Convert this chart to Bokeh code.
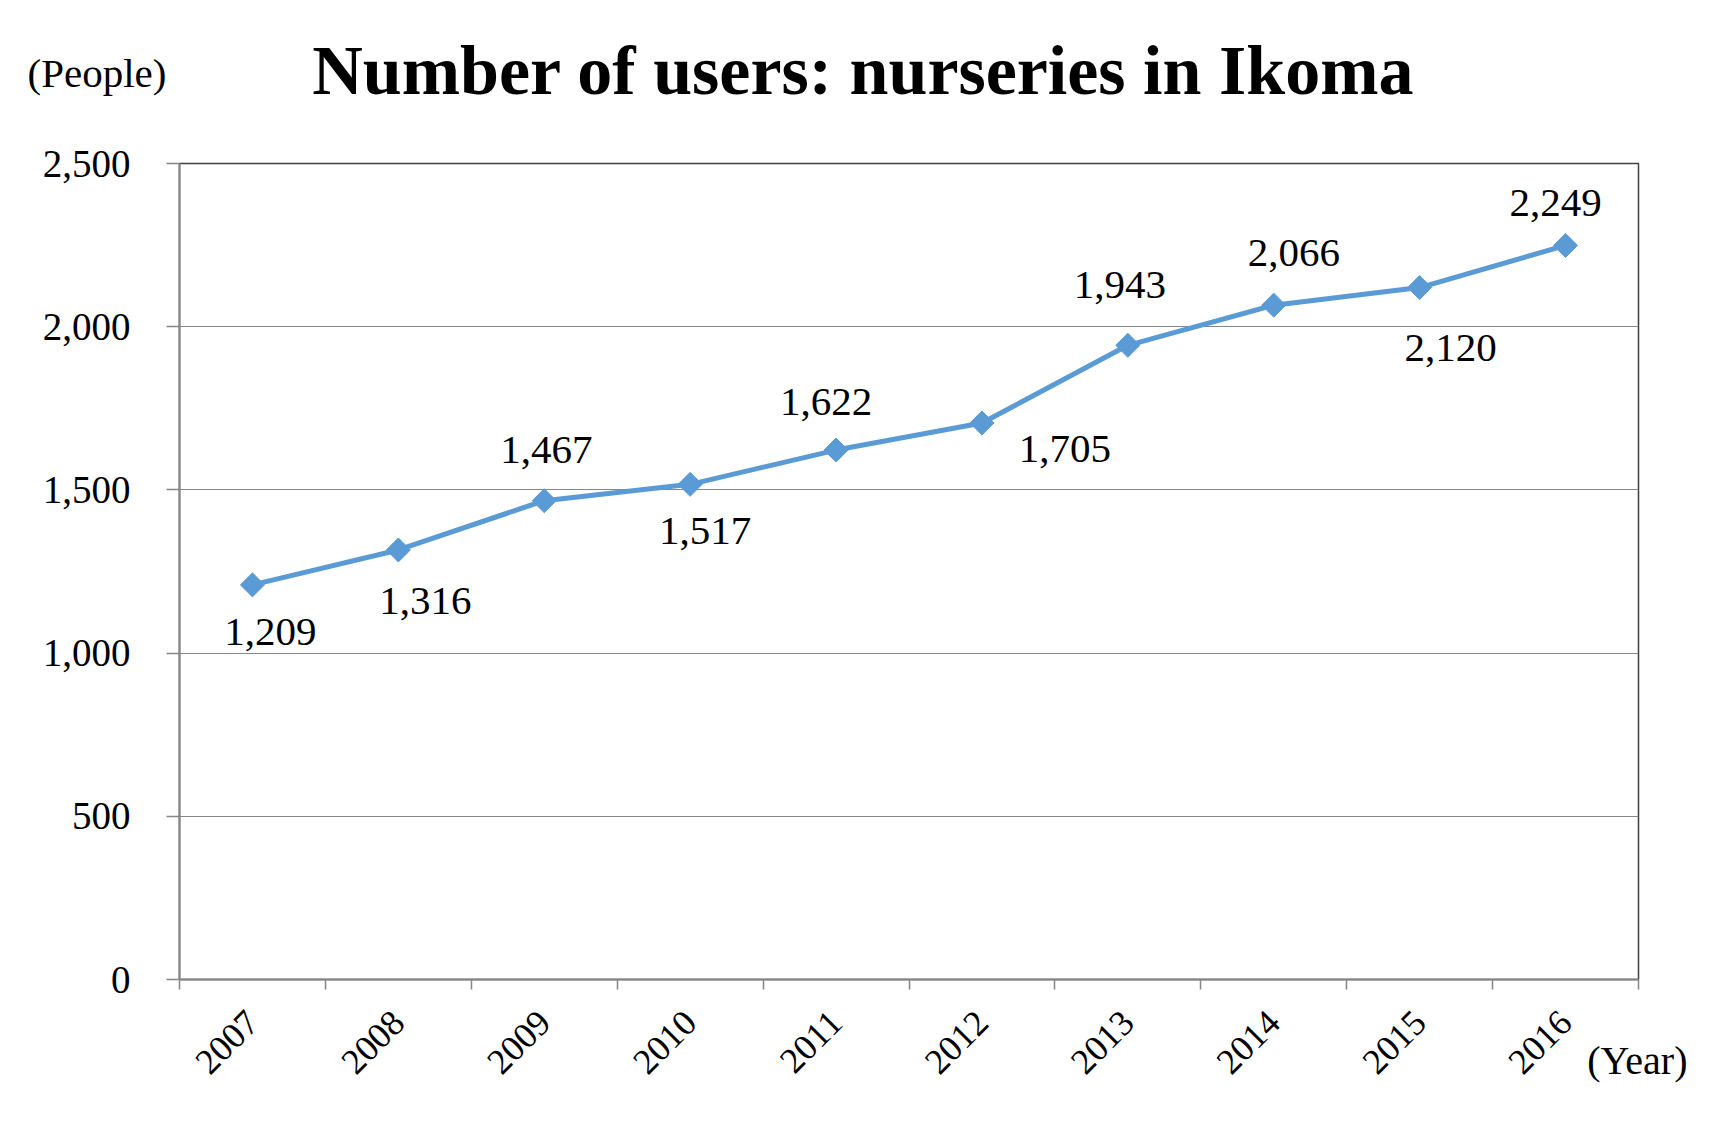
import numpy as np
from bokeh.plotting import figure
from bokeh.layouts import column
from bokeh.models import Range1d, FixedTicker, NumeralTickFormatter, Title, ColumnDataSource
from bokeh.core.properties import value
from bokeh.embed import file_html
from bokeh.resources import INLINE

# ---- data ----
years = ["2007", "2008", "2009", "2010", "2011", "2012", "2013", "2014", "2015", "2016"]
users = [1209, 1316, 1467, 1517, 1622, 1705, 1943, 2066, 2120, 2249]
y_ticks = [0, 500, 1000, 1500, 2000, 2500]
title_text = "Number of users: nurseries in Ikoma"
y_unit = "(People)"
x_unit = "(Year)"

# ---- label placement (pixels, styles only; +dy = down) ----
lbl_dx = [18, 27, 2, 15, -10, 83, -8, 20, 31, -10]
lbl_dy = [47, 51, -51, 47, -48, 26, -60, -52, 60, -42]

FONT = "Liberation Serif"
LINE = "#5B9BD5"
W = 1703
HEAD_H = 125

n = len(years)
xs = np.arange(n) + 0.5

# ---- header (title + unit) ----
head = figure(width=W, height=HEAD_H, output_backend="svg", toolbar_location=None,
              x_range=Range1d(0, W), y_range=Range1d(HEAD_H, 0),
              x_axis_type=None, y_axis_type=None, min_border=0)
head.frame_align = False
head.outline_line_color = None
head.grid.visible = False
head.background_fill_color = "white"
head.border_fill_color = "white"
head.text(x=[863], y=[70], text=[title_text], text_font=value(FONT), text_font_size="70px",
          text_font_style="bold", text_color="black", text_align="center",
          text_baseline="middle")
head.text(x=[27], y=[72], text=[y_unit], text_font=value(FONT), text_font_size="41px",
          text_color="black", text_align="left", text_baseline="middle")

# ---- main chart ----
p = figure(width=W, height=1109 - HEAD_H, output_backend="svg", toolbar_location=None,
           x_range=Range1d(0, n), y_range=Range1d(0, 2500),
           min_border_left=179, min_border_right=65, min_border_top=163 - HEAD_H,
           min_border_bottom=130)
p.frame_align = False
p.background_fill_color = "white"
p.border_fill_color = "white"
p.outline_line_color = "#404040"
p.outline_line_width = 1.5

# y axis
p.yaxis.ticker = FixedTicker(ticks=y_ticks)
p.yaxis.formatter = NumeralTickFormatter(format="0,0")
p.yaxis.axis_line_color = "#868686"
p.yaxis.axis_line_width = 2
p.yaxis.major_tick_line_color = "#868686"
p.yaxis.major_tick_line_width = 1.5
p.yaxis.major_tick_in = 0
p.yaxis.major_tick_out = 13
p.yaxis.minor_tick_line_color = None
p.yaxis.major_label_standoff = 36
p.yaxis.major_label_text_font = FONT
p.yaxis.major_label_text_font_size = "39px"
p.yaxis.major_label_text_color = "black"

# x axis: labels at category centres, ticks at boundaries
p.xaxis.ticker = FixedTicker(ticks=list(xs), minor_ticks=list(range(n + 1)))
p.xaxis.major_label_overrides = {float(x): y for x, y in zip(xs, years)}
p.xaxis.axis_line_color = "#868686"
p.xaxis.axis_line_width = 2
p.xaxis.major_tick_line_color = None
p.xaxis.major_tick_in = 0
p.xaxis.major_tick_out = 0
p.xaxis.minor_tick_line_color = "#868686"
p.xaxis.minor_tick_line_width = 1.5
p.xaxis.minor_tick_in = 0
p.xaxis.minor_tick_out = 10
p.xaxis.major_label_orientation = np.pi / 4
p.xaxis.major_label_standoff = 27
p.xaxis.major_label_text_font = FONT
p.xaxis.major_label_text_font_size = "36px"
p.xaxis.major_label_text_color = "black"

p.xgrid.grid_line_color = None
p.ygrid.ticker = FixedTicker(ticks=y_ticks)
p.ygrid.grid_line_color = "#868686"
p.ygrid.grid_line_width = 1.2

src = ColumnDataSource(dict(x=xs, y=users, lbl=[f"{v:,}" for v in users], dx=lbl_dx, dy=lbl_dy))
p.line("x", "y", source=src, line_color=LINE, line_width=5)
p.scatter("x", "y", source=src, marker="square", angle=np.pi / 4, size=17,
          fill_color=LINE, line_color=LINE)
p.text("x", "y", text="lbl", source=src, x_offset="dx", y_offset="dy",
       text_font=value(FONT), text_font_size="41px", text_color="black",
       text_align="center", text_baseline="middle")

# x unit label below axis
p.add_layout(Title(text=x_unit, align="right", offset=-49, vertical_align="top",
                   standoff=-100, text_font=FONT, text_font_size="40px",
                   text_font_style="normal", text_color="black"), "below")

layout = column(head, p, spacing=0)
open("out.html", "w").write(file_html(layout, INLINE))
